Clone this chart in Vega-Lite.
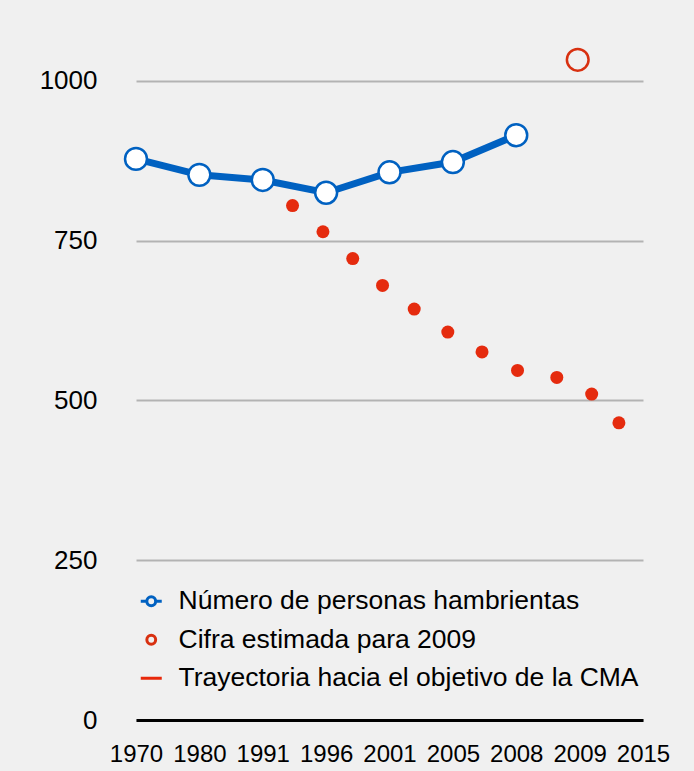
{
  "$schema": "https://vega.github.io/schema/vega-lite/v6.json",
  "width": 507,
  "height": 703,
  "autosize": "none",
  "padding": {"left": 136, "top": 17, "right": 51, "bottom": 51},
  "background": "#f0f0f0",
  "config": {
    "view": {"stroke": null},
    "font": "Liberation Sans",
    "axis": {"labelFont": "Liberation Sans", "labelColor": "#000000", "title": null},
    "legend": {"labelFont": "Liberation Sans"}
  },
  "datasets": {
    "obs": [
      {"year": "1970", "pos": 0, "value": 878},
      {"year": "1980", "pos": 1, "value": 853},
      {"year": "1991", "pos": 2, "value": 845},
      {"year": "1996", "pos": 3, "value": 825},
      {"year": "2001", "pos": 4, "value": 857},
      {"year": "2005", "pos": 5, "value": 873},
      {"year": "2008", "pos": 6, "value": 915}
    ],
    "est": [
      {"year": "2009", "pos": 6.97, "value": 1033}
    ],
    "traj": [
      {"pos": 2.47, "value": 805},
      {"pos": 2.95, "value": 764},
      {"pos": 3.42, "value": 722},
      {"pos": 3.89, "value": 680},
      {"pos": 4.39, "value": 643},
      {"pos": 4.92, "value": 607},
      {"pos": 5.46, "value": 576},
      {"pos": 6.02, "value": 547},
      {"pos": 6.64, "value": 536},
      {"pos": 7.19, "value": 510},
      {"pos": 7.62, "value": 465}
    ]
  },
  "encoding": {
    "x": {
      "field": "pos",
      "type": "quantitative",
      "scale": {"domain": [0, 8], "nice": false, "zero": false},
      "axis": {
        "values": [0, 1, 2, 3, 4, 5, 6, 7, 8],
        "labelExpr": "['1970','1980','1991','1996','2001','2005','2008','2009','2015'][datum.value]",
        "grid": false,
        "ticks": false,
        "domain": true,
        "domainColor": "#000000",
        "domainWidth": 3,
        "labelFontSize": 24,
        "labelPadding": 22,
        "labelFlush": false,
        "labelOverlap": false
      }
    },
    "y": {
      "field": "value",
      "type": "quantitative",
      "scale": {"domain": [0, 1100], "nice": false},
      "axis": {
        "values": [0, 250, 500, 750, 1000],
        "format": "d",
        "grid": true,
        "gridColor": "#b3b3b3",
        "gridWidth": 2,
        "domain": false,
        "ticks": false,
        "labelFontSize": 26,
        "labelPadding": 39
      }
    }
  },
  "layer": [
    {
      "data": {"name": "obs"},
      "mark": {"type": "line", "color": "#0061c1", "strokeWidth": 7}
    },
    {
      "data": {"name": "obs"},
      "mark": {"type": "point", "shape": "circle", "filled": true, "fill": "#ffffff", "stroke": "#0061c1", "strokeWidth": 2.5, "size": 480, "opacity": 1}
    },
    {
      "data": {"name": "est"},
      "mark": {"type": "point", "shape": "circle", "filled": false, "stroke": "#d83010", "strokeWidth": 2.5, "size": 470, "opacity": 1}
    },
    {
      "data": {"name": "traj"},
      "mark": {"type": "circle", "color": "#e52b0e", "size": 169, "opacity": 1}
    },
    {
      "data": {"values": []},
      "mark": {"type": "point", "filled": false, "size": 441, "strokeWidth": 3, "opacity": 1},
      "encoding": {
        "x": null,
        "y": null,
        "color": {
          "field": "series",
          "type": "nominal",
          "scale": {
            "domain": ["Número de personas hambrientas", "Cifra estimada para 2009", "Trayectoria hacia el objetivo de la CMA"],
            "range": ["#0061c1", "#d83010", "#e8280a"]
          },
          "legend": {
            "title": null,
            "orient": "none",
            "legendX": 2,
            "legendY": 571,
            "padding": 0,
            "symbolSize": 441,
            "symbolStrokeWidth": 3,
            "labelFontSize": 26.5,
            "labelColor": "#000000",
            "labelOffset": 14,
            "rowPadding": 11.5,
            "labelLimit": 600,
            "encode": {"symbols": {"update": {"fill": {"value": "#ffffff"}, "strokeWidth": {"value": 3.5}}}}
          }
        },
        "shape": {
          "field": "series",
          "type": "nominal",
          "scale": {
            "domain": ["Número de personas hambrientas", "Cifra estimada para 2009", "Trayectoria hacia el objetivo de la CMA"],
            "range": [
              "M-1,0H-0.42M-0.42,0A0.42,0.42,0,1,1,0.42,0A0.42,0.42,0,1,1,-0.42,0ZM0.42,0H1",
              "M-0.42,0A0.42,0.42,0,1,1,0.42,0A0.42,0.42,0,1,1,-0.42,0Z",
              "M-1,0H1"
            ]
          },
          "legend": {
            "title": null,
            "orient": "none",
            "legendX": 2,
            "legendY": 571,
            "padding": 0,
            "symbolSize": 441,
            "symbolStrokeWidth": 3,
            "labelFontSize": 26.5,
            "labelColor": "#000000",
            "labelOffset": 14,
            "rowPadding": 11.5,
            "labelLimit": 600,
            "encode": {"symbols": {"update": {"fill": {"value": "#ffffff"}, "strokeWidth": {"value": 3.5}}}}
          }
        }
      }
    }
  ]
}
